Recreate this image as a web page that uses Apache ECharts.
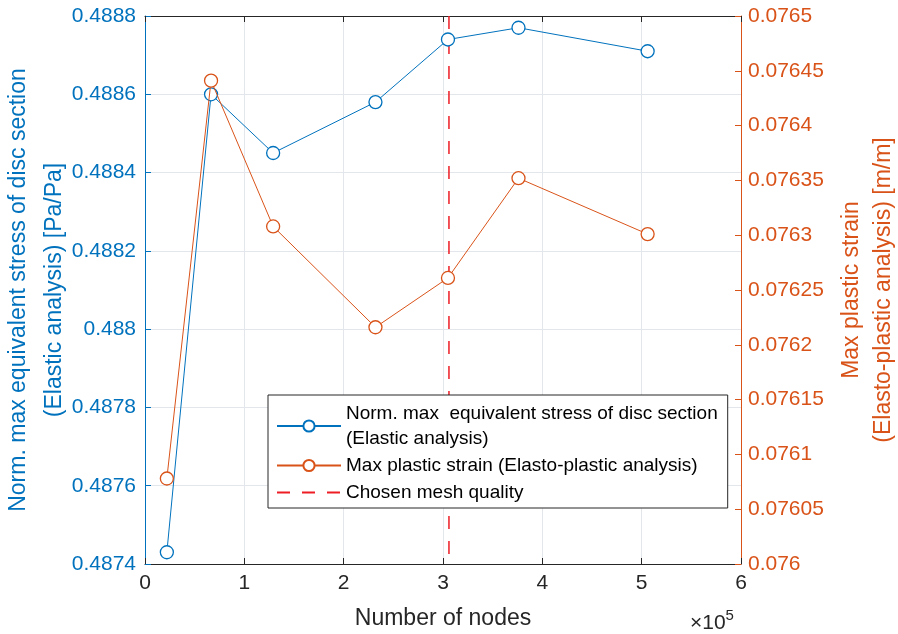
<!DOCTYPE html>
<html>
<head>
<meta charset="utf-8">
<script src="https://cdn.jsdelivr.net/npm/echarts@6/dist/echarts.min.js"></script>
<style>
  html, body { margin: 0; padding: 0; background: #fff; }
  #echarts { width: 898px; height: 634px; }
</style>
</head>
<body>
<div id="echarts"></div>
<script>
// 节点数 (x 10^5)
var nodes = [0.22, 0.665, 1.29, 2.32, 3.05, 3.76, 5.06];
// 归一化最大等效应力 (弹性分析)
var stress = [0.48743, 0.48860, 0.48845, 0.48858, 0.48874, 0.48877, 0.48871];
// 最大塑性应变 (弹塑性分析)
var strain = [0.076078, 0.076441, 0.076308, 0.076216, 0.076261, 0.076352, 0.076301];
// 选定网格
var chosenMesh = 3.06;

var seriesNames = [
    'Norm. max  equivalent stress of disc section\n(Elastic analysis)',
    'Max plastic strain (Elasto-plastic analysis)',
    'Chosen mesh quality'
];

var blue = '#0072BD';
var orange = '#D95319';
var dark = '#262626';
var gridColor = '#e3e7ec';
var font = 'Liberation Sans, Arial, sans-serif';

var zip = function (xs, ys) {
    return xs.map(function (x, i) { return [x, ys[i]]; });
};

var myChart = echarts.init(document.getElementById('echarts'));
option = {
    animation: false,
    textStyle: { fontFamily: font },
    grid: {
        left: 145,
        right: 157,
        top: 16,
        bottom: 70,
        containLabel: false,
        outerBoundsMode: 'none'
    },
    legend: {
        orient: 'vertical',
        left: 268,
        top: 395,
        padding: [6, 10, 3, 8],
        itemGap: 2,
        itemWidth: 64,
        itemHeight: 14,
        backgroundColor: '#fff',
        borderColor: dark,
        borderWidth: 1,
        borderRadius: 0,
        textStyle: { fontSize: 19, color: '#000', lineHeight: 25, fontFamily: font },
        data: seriesNames
    },
    xAxis: [{
        type: 'value',
        min: 0,
        max: 6,
        interval: 1,
        name: 'Number of nodes',
        nameLocation: 'middle',
        nameGap: 43,
        nameMoveOverlap: false,
        nameTextStyle: { fontSize: 23, color: dark },
        axisLine: { onZero: false, lineStyle: { color: dark } },
        axisTick: { inside: true, length: 6, lineStyle: { color: dark } },
        axisLabel: { fontSize: 21, color: dark, margin: 9 },
        splitLine: { show: true, lineStyle: { color: gridColor } }
    }, {
        type: 'value',
        position: 'top',
        min: 0,
        max: 6,
        interval: 1,
        axisLine: { onZero: false, lineStyle: { color: dark } },
        axisTick: { inside: true, length: 6, lineStyle: { color: dark } },
        axisLabel: { show: false },
        splitLine: { show: false }
    }],
    yAxis: [{
        type: 'value',
        min: 0.4874,
        max: 0.4888,
        interval: 0.0002,
        name: 'Norm. max equivalent stress of disc section\n(Elastic analysis) [Pa/Pa]',
        nameLocation: 'middle',
        nameGap: 72,
        nameMoveOverlap: false,
        nameTextStyle: { fontSize: 23, color: blue, lineHeight: 36 },
        axisLine: { show: true, onZero: false, lineStyle: { color: blue } },
        axisTick: { show: true, inside: true, length: 6, lineStyle: { color: blue } },
        axisLabel: {
            fontSize: 21, color: blue, margin: 9,
            formatter: function (v) { return String(parseFloat(v.toFixed(4))); }
        },
        splitLine: { show: true, lineStyle: { color: gridColor } }
    }, {
        type: 'value',
        position: 'right',
        min: 0.0760,
        max: 0.0765,
        interval: 0.00005,
        name: 'Max plastic strain\n(Elasto-plastic analysis) [m/m]',
        nameLocation: 'middle',
        nameGap: 95,
        nameRotate: 90,
        nameMoveOverlap: false,
        nameTextStyle: { fontSize: 23, color: orange, lineHeight: 32 },
        axisLine: { show: true, onZero: false, lineStyle: { color: orange } },
        axisTick: { show: true, inside: true, length: 6, lineStyle: { color: orange } },
        axisLabel: {
            fontSize: 21, color: orange, margin: 7,
            formatter: function (v) { return String(parseFloat(v.toFixed(5))); }
        },
        splitLine: { show: false }
    }],
    series: [{
        name: seriesNames[0],
        type: 'line',
        yAxisIndex: 0,
        data: zip(nodes, stress),
        symbol: 'circle',
        symbolSize: 13,
        itemStyle: { color: '#fff', borderColor: blue, borderWidth: 1.3 },
        lineStyle: { color: blue, width: 1 },
        z: 3
    }, {
        name: seriesNames[1],
        type: 'line',
        yAxisIndex: 1,
        data: zip(nodes, strain),
        symbol: 'circle',
        symbolSize: 13,
        itemStyle: { color: '#fff', borderColor: orange, borderWidth: 1.3 },
        lineStyle: { color: orange, width: 1 },
        z: 4
    }, {
        name: seriesNames[2],
        type: 'line',
        yAxisIndex: 0,
        data: [[chosenMesh, 0.4888], [chosenMesh, 0.4874]],
        symbol: 'none',
        itemStyle: { color: '#ee1c25', opacity: 0 },
        lineStyle: { color: '#ee1c25', width: 1.5, type: [13, 12] },
        z: 2
    }],
    graphic: [{
        type: 'text',
        left: 690,
        top: 608,
        style: {
            text: '{a|×10}{b|5}',
            rich: {
                a: { fontSize: 21, fontFamily: font, fill: dark, padding: [8, 0, 0, 0] },
                b: { fontSize: 15, fontFamily: font, fill: dark, padding: [0, 0, 8, 0] }
            }
        }
    }]
};
myChart.setOption(option);
</script>
</body>
</html>
